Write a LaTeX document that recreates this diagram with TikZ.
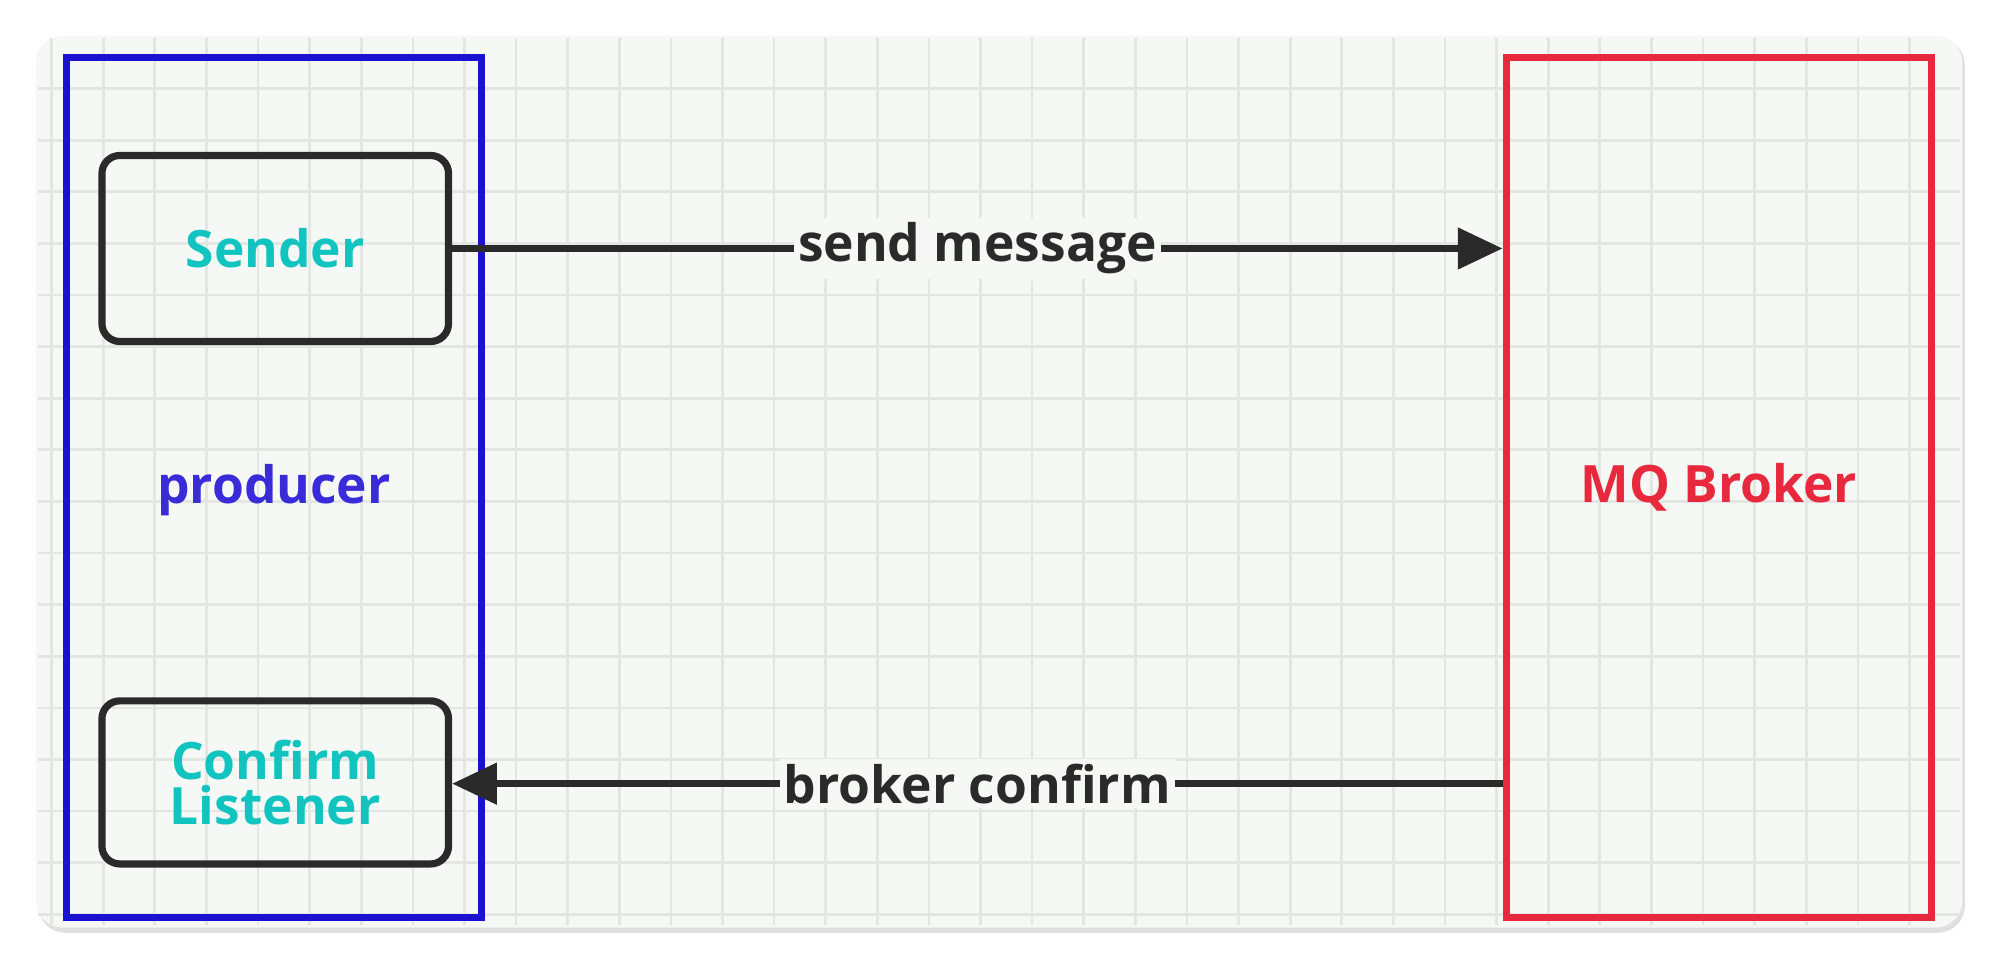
\documentclass[tikz,border=0pt]{standalone}
\usepackage{fontspec}
\setmainfont{Open Sans}
\usetikzlibrary{positioning,arrows.meta}
\definecolor{bgpanel}{HTML}{F5F8F4}
\definecolor{gridc}{HTML}{E4E6E4}
\definecolor{prodblue}{HTML}{1A12D0}
\definecolor{prodtext}{HTML}{3A2BD8}
\definecolor{brokred}{HTML}{E8283C}
\definecolor{tealtxt}{HTML}{12C4C0}
\definecolor{darkline}{HTML}{2A2A2A}
\begin{document}
\begin{tikzpicture}[font=\bfseries\fontsize{11.5}{13}\selectfont]
        % Define styles
        \tikzset{comp/.style={rectangle, rounded corners=4pt, draw=darkline, line width=1.6pt, text=tealtxt, align=center, minimum width=2.72cm},
                 lane/.style={rectangle, line width=1.6pt, minimum height=6.75cm},
                 arrow/.style={line width=1.6pt, darkline, -{Triangle[length=10pt,width=9pt]}},
                 lbl/.style={fill=bgpanel, text=darkline, inner sep=1pt}}
        \useasboundingbox (0,0) rectangle (15.68,7.58);
        % Panel and grid
        \fill[black!12, rounded corners=6pt] (0.30,0.26) rectangle (15.42,7.28);
        \fill[bgpanel, rounded corners=6pt] (0.28,0.30) rectangle (15.40,7.30);
        \draw[gridc, line width=0.6pt] (0.30,0.32) grid[step=0.405] (15.38,7.28);
        % Nodes
        \node [lane, draw=prodblue, minimum width=3.26cm] (producer) at (2.15,3.755) {};
        \node [text=prodtext] at (2.15,3.73) {producer};
        \node [lane, draw=brokred, minimum width=3.34cm, text=brokred] (broker) at (13.49,3.755) {MQ Broker};
        \node [comp, minimum height=1.46cm] (sender) at (2.16,5.63) {Sender};
        \node [comp, minimum height=1.28cm] (listener) at (2.16,1.44) {Confirm\\[-3pt]Listener};
        % Arrows
        \draw [arrow] (sender.east) -- (broker.west |- sender.east) node[lbl, midway] {send message};
        \draw [arrow] (broker.west |- 0,1.43) -- (listener.east |- 0,1.43) node[lbl, midway] {broker confirm};
    \end{tikzpicture}
\end{document}
